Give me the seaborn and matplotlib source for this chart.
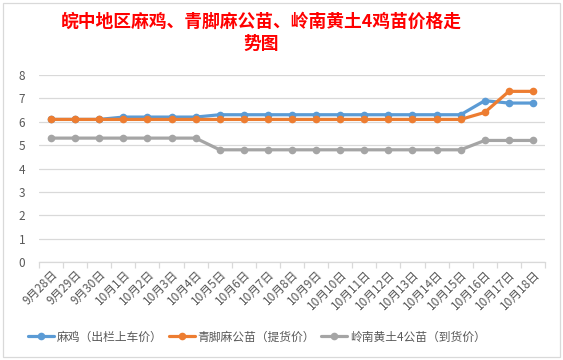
import matplotlib
matplotlib.use("Agg")
import matplotlib.pyplot as plt
from matplotlib.lines import Line2D
from matplotlib.patches import Rectangle
import seaborn as sns
import pandas as pd

dates = ["9月28日", "9月29日", "9月30日", "10月1日", "10月2日", "10月3日", "10月4日",
         "10月5日", "10月6日", "10月7日", "10月8日", "10月9日", "10月10日", "10月11日",
         "10月12日", "10月13日", "10月14日", "10月15日", "10月16日", "10月17日", "10月18日"]
s1_name = "麻鸡（出栏上车价）"
s2_name = "青脚麻公苗（提货价）"
s3_name = "岭南黄土4公苗（到货价）"
s1 = [6.1, 6.1, 6.1, 6.2, 6.2, 6.2, 6.2, 6.3, 6.3, 6.3, 6.3, 6.3, 6.3, 6.3,
      6.3, 6.3, 6.3, 6.3, 6.9, 6.8, 6.8]
s2 = [6.1, 6.1, 6.1, 6.1, 6.1, 6.1, 6.1, 6.1, 6.1, 6.1, 6.1, 6.1, 6.1, 6.1,
      6.1, 6.1, 6.1, 6.1, 6.4, 7.3, 7.3]
s3 = [5.3, 5.3, 5.3, 5.3, 5.3, 5.3, 5.3, 4.8, 4.8, 4.8, 4.8, 4.8, 4.8, 4.8,
      4.8, 4.8, 4.8, 4.8, 5.2, 5.2, 5.2]
title = "皖中地区麻鸡、青脚麻公苗、岭南黄土4鸡苗价格走\n势图"

sns.set_theme(style="white")
plt.rcParams["font.family"] = ["Noto Sans CJK SC", "DejaVu Sans"]

names = [s1_name, s2_name, s3_name]
colors = ["#5B9BD5", "#ED7D31", "#A5A5A5"]
rows = []
for name, vals in zip(names, [s1, s2, s3]):
    for i, v in enumerate(vals):
        rows.append({"idx": i, "val": v, "series": name})
df = pd.DataFrame(rows)

W, H = 563, 360
fig = plt.figure(figsize=(W / 100, H / 100), dpi=100)
fig.patch.set_facecolor("white")
ax = fig.add_axes([39 / W, 1 - 262 / H, (545 - 39) / W, (262 - 75) / H])

sns.lineplot(data=df, x="idx", y="val", hue="series", hue_order=names,
             palette=colors, marker="o", markersize=5.5, markeredgewidth=0,
             linewidth=2.3, legend=False, sort=False, ax=ax)

ax.set_xlim(-0.5, len(dates) - 0.5)
ax.set_ylim(0, 8)
ax.set_yticks(range(0, 9))
ax.set_yticklabels([str(i) for i in range(0, 9)], fontsize=8.5, color="#595959")
ax.yaxis.grid(True, color="#D9D9D9", linewidth=0.9)
ax.set_axisbelow(True)
ax.set_xlabel("")
ax.set_ylabel("")
for sp in ["top", "right", "left"]:
    ax.spines[sp].set_visible(False)
ax.spines["bottom"].set_color("#D9D9D9")
ax.spines["bottom"].set_linewidth(0.9)

ax.set_xticks([i for i in range(len(dates))])
ax.set_xticklabels(dates, rotation=45, ha="right", rotation_mode="anchor",
                   fontsize=8.5, color="#595959")
ax.set_xticks([i - 0.5 for i in range(len(dates) + 1)], minor=True)
ax.tick_params(axis="x", which="major", length=0, pad=4)
ax.tick_params(axis="x", which="minor", length=4, color="#D9D9D9", width=0.9, bottom=True)
ax.tick_params(axis="y", length=0, pad=10)

fig.text(261 / W, 1 - 33 / H, title, ha="center", va="center", color="#FF0000",
         fontsize=12.8, fontweight="bold", linespacing=1.25)

handles = [Line2D([0], [0], color=c, lw=2.3, marker="o", markersize=5.5,
                  markeredgewidth=0) for c in colors]
fig.legend(handles, names, loc="center", bbox_to_anchor=(257 / W, 1 - 337 / H),
           ncol=3, frameon=False, fontsize=8.5, labelcolor="#595959",
           handlelength=2.2, handletextpad=0.25, columnspacing=0.5)

fig.patches.append(Rectangle((3 / W, 3 / H), 557 / W, 354 / H, transform=fig.transFigure,
                             fill=False, edgecolor="#D9D9D9", linewidth=0.9))

fig.savefig("out.png", dpi=100)
